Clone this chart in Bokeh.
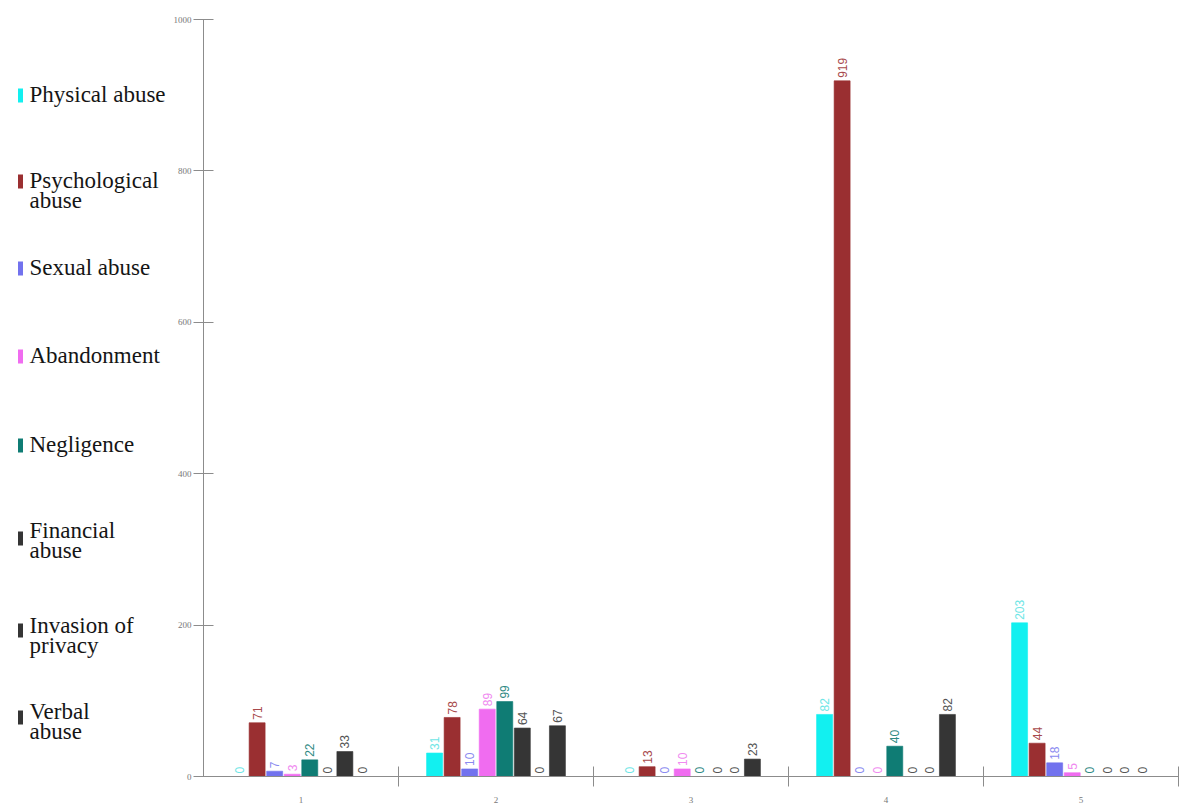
import math
from bokeh.plotting import figure
from bokeh.layouts import row
from bokeh.models import ColumnDataSource, Range1d, FixedTicker
from bokeh.core.properties import value
from bokeh.embed import file_html
from bokeh.resources import INLINE

groups = ["1", "2", "3", "4", "5"]
series_names = ["Physical abuse", "Psychological\nabuse", "Sexual abuse", "Abandonment",
                "Negligence", "Financial\nabuse", "Invasion of\nprivacy", "Verbal\nabuse"]
physical = [0, 31, 0, 82, 203]
psychological = [71, 78, 13, 919, 44]
sexual = [7, 10, 0, 0, 18]
abandonment = [3, 89, 10, 0, 5]
negligence = [22, 99, 0, 40, 0]
financial = [0, 64, 0, 0, 0]
invasion = [33, 0, 0, 0, 0]
verbal = [0, 67, 23, 82, 0]
series_values = [physical, psychological, sexual, abandonment, negligence, financial, invasion, verbal]
colors = ["#12f0f0", "#9a2f31", "#7272ee", "#f06cf0", "#0f7c74", "#353535", "#353535", "#353535"]
label_colors = ["#6fe6e6", "#a84a4c", "#8a8af0", "#f08af0", "#2f8a84", "#555555", "#555555", "#555555"]
y_ticks = [0, 200, 400, 600, 800, 1000]

# legend layout (screen positions inside the legend panel)
legend_glyph_y = [95, 181, 268, 356, 445, 538, 630, 717]
legend_text_y = [95, 181, 268, 356, 445, 531, 626, 712]

# ---------------- legend panel ----------------
leg = figure(width=170, height=812, output_backend="svg", toolbar_location=None,
             x_range=Range1d(0, 170), y_range=Range1d(776, 19),
             min_border_left=0, min_border_right=0, min_border_top=19, min_border_bottom=36,
             x_axis_type=None, y_axis_type=None)
leg.outline_line_color = None
leg.grid.visible = False
lsrc = ColumnDataSource(dict(gx=[20] * len(series_names), gy=legend_glyph_y,
                             tx=[29] * len(series_names), ty=[y - 14 for y in legend_text_y],
                             name=series_names, color=colors))
leg.rect(x="gx", y="gy", width=5, height=14, source=lsrc, fill_color="color",
         line_color=None)
leg.text(x="tx", y="ty", text="name", source=lsrc, text_align="left",
         text_baseline="top", text_font=value("Liberation Serif"),
         text_font_size="23px", text_color="#151515", text_line_height=0.8)

# ---------------- main chart ----------------
p = figure(width=1011, height=812, output_backend="svg", toolbar_location=None,
           x_range=Range1d(0, 5), y_range=Range1d(0, 1000),
           min_border_left=33, min_border_right=3, min_border_top=19, min_border_bottom=36)
p.outline_line_color = None
p.grid.visible = False

spacing = 0.09
bar_w = 0.082
for k, vals in enumerate(series_values):
    xs = [gi + 0.5 + (k - 3.5) * spacing for gi in range(len(groups))]
    src = ColumnDataSource(dict(x=xs, top=vals, lbl=[str(v) for v in vals]))
    p.vbar(x="x", top="top", width=bar_w, source=src, fill_color=colors[k],
           line_color=colors[k], line_alpha=0.6)
    p.text(x="x", y="top", text="lbl", source=src, angle=math.pi / 2,
           text_align="left", text_baseline="middle", y_offset=-3,
           text_font=value("Liberation Sans"), text_font_size="12px",
           text_color=label_colors[k])

ya = p.yaxis[0]
ya.ticker = FixedTicker(ticks=y_ticks)
ya.axis_line_color = "#8c8c8c"
ya.major_tick_line_color = "#8c8c8c"
ya.major_tick_in = 10
ya.major_tick_out = 10
ya.minor_tick_line_color = None
ya.major_label_text_font = "Liberation Sans Narrow"
ya.major_label_text_font_size = "9px"
ya.major_label_text_color = "#777777"
ya.major_label_standoff = 2

xa = p.xaxis[0]
xa.ticker = FixedTicker(ticks=[0.5, 1.5, 2.5, 3.5, 4.5], minor_ticks=[1, 2, 3, 4, 5])
xa.major_label_overrides = {0.5 + i: g for i, g in enumerate(groups)}
xa.axis_line_color = "#8c8c8c"
xa.major_tick_line_color = None
xa.major_tick_in = 0
xa.major_tick_out = 0
xa.minor_tick_line_color = "#8c8c8c"
xa.minor_tick_in = 10
xa.minor_tick_out = 10
xa.major_label_text_font = "Liberation Sans Narrow"
xa.major_label_text_font_size = "9px"
xa.major_label_text_color = "#777777"
xa.major_label_standoff = 10

layout = row(leg, p, spacing=0)
open("out.html", "w").write(file_html(layout, INLINE))
